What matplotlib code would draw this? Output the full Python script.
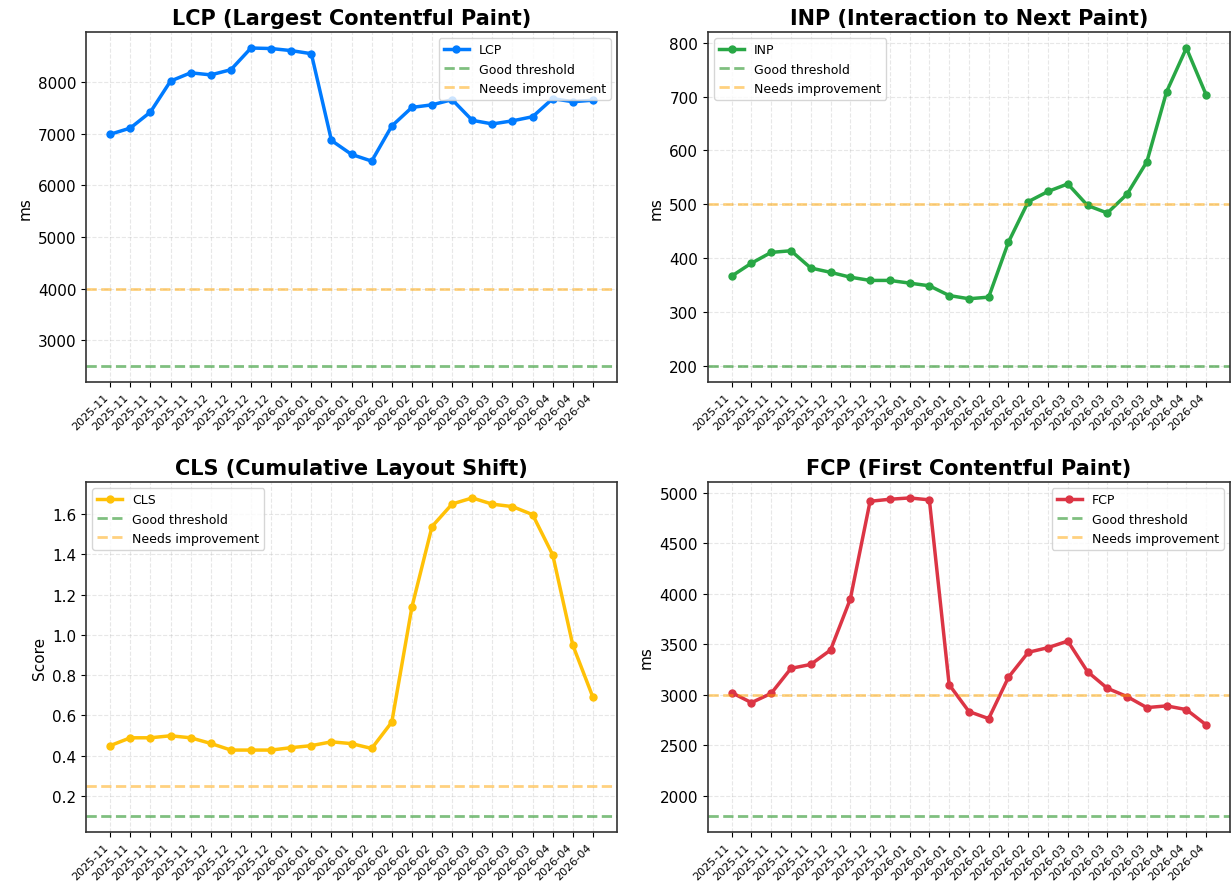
import numpy as np
import matplotlib
matplotlib.use('Agg')
import matplotlib.pyplot as plt

# weekly labels (month of each sample)
dates = ['2025-11'] * 5 + ['2025-12'] * 4 + ['2026-01'] * 4 + ['2026-02'] * 4 \
    + ['2026-03'] * 5 + ['2026-04'] * 3

lcp = [6990, 7110, 7420, 8020, 8180, 8140, 8240, 8660, 8650, 8610, 8550, 6870, 6600,
       6470, 7150, 7510, 7560, 7660, 7260, 7190, 7250, 7330, 7680, 7620, 7650]
inp = [367, 391, 411, 414, 382, 374, 365, 359, 359, 354, 349, 331, 325,
       328, 430, 505, 524, 538, 498, 484, 519, 579, 709, 790, 703]
cls = [0.45, 0.489, 0.489, 0.499, 0.489, 0.461, 0.428, 0.428, 0.428, 0.44, 0.45, 0.469, 0.46,
       0.436, 0.567, 1.139, 1.539, 1.651, 1.681, 1.65, 1.638, 1.598, 1.398, 0.949, 0.69]
fcp = [3021, 2922, 3014, 3261, 3300, 3442, 3946, 4914, 4934, 4947, 4928, 3100, 2834,
       2764, 3173, 3420, 3466, 3531, 3228, 3064, 2982, 2873, 2890, 2853, 2702]

# (title, name, values, good, needs improvement, ylabel, colour, legend loc)
panels = [
    ('LCP (Largest Contentful Paint)', 'LCP', lcp, 2500, 4000, 'ms', '#007bff', 'upper right'),
    ('INP (Interaction to Next Paint)', 'INP', inp, 200, 500, 'ms', '#28a745', 'upper left'),
    ('CLS (Cumulative Layout Shift)', 'CLS', cls, 0.1, 0.25, 'Score', '#ffc107', 'upper left'),
    ('FCP (First Contentful Paint)', 'FCP', fcp, 1800, 3000, 'ms', '#dc3545', 'upper right'),
]

fig, axes = plt.subplots(2, 2, figsize=(12.31, 8.95), dpi=100)
# axes boxes measured off the target picture
boxes = [[0.0699, 0.572, 0.4314, 0.391], [0.5751, 0.572, 0.424, 0.391],
         [0.0699, 0.0693, 0.4314, 0.391], [0.5751, 0.0693, 0.424, 0.391]]

x = np.arange(len(dates))
for ax, box, (title, name, vals, good, ni, ylab, col, loc) in zip(axes.flat, boxes, panels):
    ax.set_position(box)
    ax.plot(x, vals, marker='o', color=col, linewidth=2.5, markersize=5, label=name)
    ax.axhline(good, color='green', linestyle='--', linewidth=2, alpha=0.5, label='Good threshold')
    ax.axhline(ni, color='orange', linestyle='--', linewidth=2, alpha=0.5, label='Needs improvement')
    ax.set_title(title, fontsize=15, fontweight='bold')
    ax.set_ylabel(ylab, fontsize=11)
    ax.set_xticks(x)
    ax.set_xticklabels(dates, rotation=45, ha='right', fontsize=8)
    ax.tick_params(axis='y', labelsize=11)
    ax.grid(True, linestyle='--', alpha=0.3)
    ax.legend(loc=loc, fontsize=9)
    for sp in ax.spines.values():
        sp.set_color('#333333')
        sp.set_linewidth(1.2)

fig.savefig('out.png', dpi=100)
